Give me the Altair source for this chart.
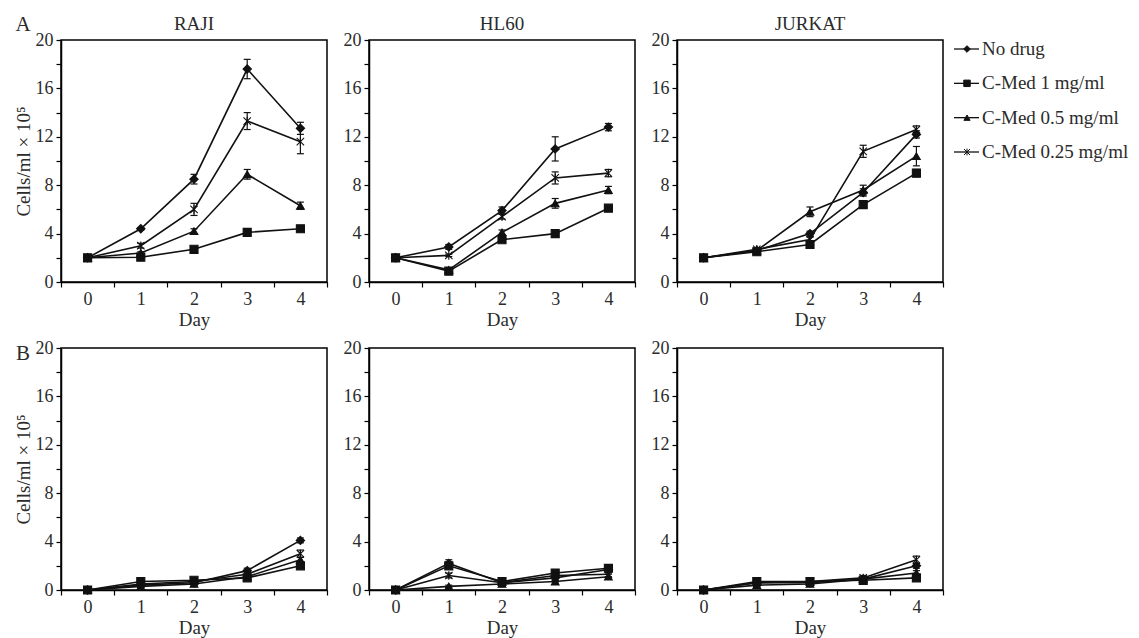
import altair as alt
import pandas as pd

FONT = "Liberation Serif"
INK = "#111111"
TEXT = "#2b2b2b"

days = [0, 1, 2, 3, 4]
series = ["No drug", "C-Med 1 mg/ml", "C-Med 0.5 mg/ml", "C-Med 0.25 mg/ml"]
cell_lines = ["RAJI", "HL60", "JURKAT"]
row_labels = ["A", "B"]

# ---- Panel A values (cells/ml x 10^5), rows follow `series` order ----
RAJI_A = [
    [2.0, 4.4, 8.5, 17.6, 12.7],
    [2.0, 2.05, 2.7, 4.1, 4.4],
    [2.0, 2.4, 4.2, 8.9, 6.3],
    [2.0, 3.0, 6.0, 13.3, 11.6],
]
RAJI_A_ERR = [
    [0.0, 0.1, 0.4, 0.8, 0.5],
    [0.0, 0.0, 0.1, 0.2, 0.2],
    [0.0, 0.1, 0.2, 0.4, 0.3],
    [0.0, 0.2, 0.5, 0.7, 1.0],
]
HL60_A = [
    [2.0, 2.9, 5.9, 11.0, 12.8],
    [2.0, 0.9, 3.5, 4.0, 6.1],
    [2.0, 1.0, 4.1, 6.5, 7.6],
    [2.0, 2.2, 5.4, 8.6, 9.0],
]
HL60_A_ERR = [
    [0.0, 0.2, 0.3, 1.0, 0.3],
    [0.0, 0.2, 0.2, 0.2, 0.2],
    [0.0, 0.1, 0.2, 0.4, 0.3],
    [0.0, 0.1, 0.2, 0.5, 0.3],
]
JURKAT_A = [
    [2.0, 2.6, 4.0, 7.4, 12.2],
    [2.0, 2.5, 3.1, 6.4, 9.0],
    [2.0, 2.6, 5.8, 7.6, 10.4],
    [2.0, 2.7, 3.5, 10.8, 12.6],
]
JURKAT_A_ERR = [
    [0.0, 0.1, 0.2, 0.3, 0.3],
    [0.0, 0.1, 0.1, 0.3, 0.3],
    [0.0, 0.1, 0.4, 0.4, 0.8],
    [0.0, 0.1, 0.2, 0.5, 0.3],
]

# ---- Panel B values ----
RAJI_B = [
    [0.0, 0.4, 0.6, 1.6, 4.1],
    [0.0, 0.7, 0.8, 1.0, 2.0],
    [0.0, 0.3, 0.5, 1.1, 2.5],
    [0.0, 0.5, 0.7, 1.3, 3.0],
]
RAJI_B_ERR = [
    [0.0, 0.1, 0.1, 0.2, 0.2],
    [0.0, 0.1, 0.1, 0.1, 0.2],
    [0.0, 0.1, 0.1, 0.1, 0.2],
    [0.0, 0.1, 0.1, 0.2, 0.3],
]
HL60_B = [
    [0.0, 2.2, 0.6, 1.0, 1.7],
    [0.0, 2.0, 0.7, 1.4, 1.8],
    [0.0, 0.3, 0.5, 0.7, 1.1],
    [0.0, 1.2, 0.6, 1.2, 1.3],
]
HL60_B_ERR = [
    [0.0, 0.3, 0.1, 0.2, 0.3],
    [0.0, 0.2, 0.1, 0.2, 0.3],
    [0.0, 0.1, 0.1, 0.1, 0.2],
    [0.0, 0.2, 0.1, 0.2, 0.2],
]
JURKAT_B = [
    [0.0, 0.6, 0.6, 0.9, 2.0],
    [0.0, 0.7, 0.7, 0.8, 1.0],
    [0.0, 0.4, 0.5, 0.9, 1.4],
    [0.0, 0.6, 0.7, 1.0, 2.5],
]
JURKAT_B_ERR = [
    [0.0, 0.1, 0.1, 0.1, 0.2],
    [0.0, 0.1, 0.1, 0.1, 0.2],
    [0.0, 0.1, 0.1, 0.1, 0.2],
    [0.0, 0.1, 0.1, 0.2, 0.3],
]

x_axis_values = [-0.5, 0, 0.5, 1, 1.5, 2, 2.5, 3, 3.5, 4, 4.5]
y_axis_values = [0, 2, 4, 6, 8, 10, 12, 14, 16, 18, 20]
y_title = "Cells/ml \u00d7 10\u2075"

STAR = "M-1,-1L1,1M-1,1L1,-1M0,-1.15L0,1.15"
shape_range = ["diamond", "square", "triangle-up", STAR]
size_range = [70, 55, 60, 85]
legend_size_range = [45, 35, 40, 60]

panel_values = {
    ("A", "RAJI"): (RAJI_A, RAJI_A_ERR),
    ("A", "HL60"): (HL60_A, HL60_A_ERR),
    ("A", "JURKAT"): (JURKAT_A, JURKAT_A_ERR),
    ("B", "RAJI"): (RAJI_B, RAJI_B_ERR),
    ("B", "HL60"): (HL60_B, HL60_B_ERR),
    ("B", "JURKAT"): (JURKAT_B, JURKAT_B_ERR),
}

rows = []
for (row, cell), (vals, errs) in panel_values.items():
    for s, vlist, elist in zip(series, vals, errs):
        for d, v, e in zip(days, vlist, elist):
            rows.append(dict(row=row, cell=cell, series=s, day=d, value=v,
                             err=e, lo=max(v - e, 0), hi=v + e))
df = pd.DataFrame(rows)

W, H = 266, 242

xs = alt.Scale(domain=[-0.5, 4.5], nice=False, zero=False)
ys = alt.Scale(domain=[0, 20], nice=False)
shape_scale = alt.Scale(domain=series, range=shape_range)
size_scale = alt.Scale(domain=series, range=size_range)


def text_layer(label, x, y, size):
    return alt.Chart(pd.DataFrame({"t": [label]})).mark_text(
        font=FONT, fontSize=size, color=TEXT, align="center", baseline="middle"
    ).encode(text="t:N", x=alt.value(x), y=alt.value(y))


def panel(row, cell, col_idx):
    data = df[(df["row"] == row) & (df["cell"] == cell)]
    base = alt.Chart(data)
    x_axis = alt.Axis(
        values=x_axis_values,
        labelExpr="datum.value % 1 === 0 ? '' + datum.value : ''",
        tickOpacity={"condition": {"test": "datum.value % 1 === 0", "value": 0}, "value": 1},
        title="Day",
        labelOverlap=False,
        labelFlush=False,
        titlePadding=2,
    )
    y_axis = alt.Axis(
        values=y_axis_values,
        labelExpr="datum.value % 4 === 0 ? '' + datum.value : ''",
        title=y_title if col_idx == 0 else None,
        labelOverlap=False,
        labelFlush=False,
        titlePadding=2,
    )
    X = alt.X("day:Q", scale=xs, axis=x_axis)
    lines = base.mark_line(color=INK, strokeWidth=1.6).encode(
        x=X, y=alt.Y("value:Q", scale=ys, axis=y_axis), detail="series:N",
    )
    eb = base.transform_filter("datum.err > 0")
    err_rule = eb.mark_rule(color=INK, strokeWidth=1.2).encode(
        x=X, y=alt.Y("lo:Q", scale=ys, axis=y_axis), y2="hi:Q",
    )
    cap_hi = eb.mark_tick(orient="horizontal", size=7, thickness=1.2, color=INK, opacity=1).encode(
        x=X, y=alt.Y("hi:Q", scale=ys, axis=y_axis),
    )
    cap_lo = eb.mark_tick(orient="horizontal", size=7, thickness=1.2, color=INK, opacity=1).encode(
        x=X, y=alt.Y("lo:Q", scale=ys, axis=y_axis),
    )
    pts = base.mark_point(filled=True, fill=INK, stroke=INK, strokeWidth=1.1, opacity=1).encode(
        x=X, y=alt.Y("value:Q", scale=ys, axis=y_axis),
        shape=alt.Shape("series:N", scale=shape_scale, legend=None),
        size=alt.Size("series:N", scale=size_scale, legend=None),
    )
    layers = [lines, err_rule, cap_hi, cap_lo, pts]
    if row == "A":
        layers.append(text_layer(cell, W / 2, -16, 19))
    if col_idx == 0:
        layers.append(text_layer(row, -38, -15 if row == "A" else 6, 21))
    ch = alt.layer(*layers).properties(width=W, height=H)

    if row == "A" and cell == "JURKAT":
        leg_df = pd.DataFrame({"series": series, "idx": list(range(len(series)))})
        leg_data = alt.Chart(leg_df)
        ly = alt.Y("idx:Q", scale=alt.Scale(domain=[0, 3], range=[9, 112]), axis=None)
        leg_rule = leg_data.mark_rule(color=INK, strokeWidth=1.3).encode(
            x=alt.value(W + 11), x2=alt.value(W + 36), y=ly)
        leg_pts = leg_data.mark_point(filled=True, fill=INK, stroke=INK, strokeWidth=1, opacity=1).encode(
            x=alt.value(W + 24), y=ly,
            shape=alt.Shape("series:N", scale=shape_scale, legend=None),
            size=alt.Size("series:N", scale=alt.Scale(domain=series, range=legend_size_range), legend=None),
        )
        leg_txt = leg_data.mark_text(font=FONT, fontSize=19, color=TEXT, align="left", baseline="middle").encode(
            x=alt.value(W + 39), y=ly, text="series:N")
        legend = alt.layer(leg_rule, leg_pts, leg_txt)
        ch = alt.layer(ch, legend).resolve_scale(y="independent", size="independent")
        ch = ch.properties(width=W, height=H)
    return ch


top = alt.hconcat(*[panel("A", c, i) for i, c in enumerate(cell_lines)], spacing=13)
bottom = alt.hconcat(*[panel("B", c, i) for i, c in enumerate(cell_lines)], spacing=13)

chart = (
    alt.vconcat(top, bottom, spacing=8)
    .properties(padding={"left": 5, "top": 5, "right": 0, "bottom": 0})
    .configure_view(stroke="black", strokeWidth=1.5)
    .configure_axis(
        domainColor="black", domainWidth=1.5, tickColor="black", tickWidth=1.2, tickSize=5,
        labelFont=FONT, labelFontSize=18, labelColor=TEXT, labelPadding=3,
        titleFont=FONT, titleFontSize=19, titleFontWeight="normal", titleColor=TEXT,
        grid=False,
    )
)

chart.save("out.html", embed_options={"renderer": "svg", "actions": False})
